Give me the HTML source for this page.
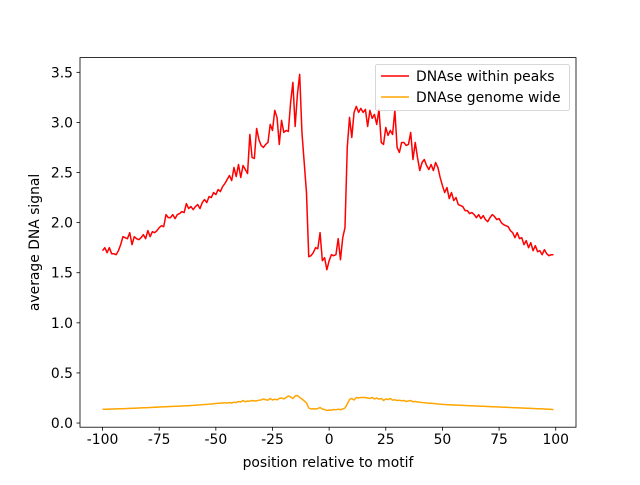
<!DOCTYPE html>
<html><head><meta charset="utf-8">
<style>
html,body{margin:0;padding:0;background:#fff;}
svg text{font-family:"DejaVu Sans","Liberation Sans",sans-serif;font-size:13.9px;fill:#000;}
</style></head>
<body>
<svg id="chart" width="640" height="480" viewBox="0 0 640 480" xmlns="http://www.w3.org/2000/svg">
<rect width="640" height="480" fill="#fff"/>
<g id="plot"></g>
</svg>
<script>
const xStart = -100;
const redValues = [
1.72,1.75,1.70,1.75,1.69,1.69,1.68,1.72,1.78,1.86,
1.85,1.84,1.90,1.78,1.86,1.84,1.83,1.85,1.88,1.84,
1.92,1.86,1.91,1.90,1.92,1.95,1.97,1.96,2.08,2.05,
2.05,2.08,2.04,2.08,2.09,2.11,2.10,2.19,2.14,2.16,
2.13,2.16,2.18,2.14,2.20,2.23,2.20,2.26,2.25,2.30,
2.28,2.33,2.31,2.36,2.39,2.43,2.47,2.42,2.55,2.46,
2.58,2.45,2.57,2.53,2.49,2.88,2.65,2.64,2.94,2.83,
2.77,2.75,2.78,2.80,2.98,2.92,3.12,3.05,2.78,3.02,
2.90,2.92,2.91,3.20,3.40,2.96,3.28,3.48,2.90,2.60,
2.30,1.66,1.67,1.70,1.75,1.74,1.90,1.62,1.65,1.53,
1.62,1.68,1.67,1.68,1.84,1.63,1.85,1.95,2.75,3.05,
2.85,3.10,3.16,3.10,3.14,3.10,3.13,2.96,3.12,3.04,
3.08,2.98,3.13,2.80,2.78,2.95,2.87,2.92,2.88,3.12,
2.75,2.70,2.80,2.80,2.77,2.78,2.90,2.63,2.80,2.65,
2.52,2.60,2.63,2.57,2.53,2.58,2.52,2.60,2.55,2.45,
2.37,2.30,2.35,2.24,2.30,2.22,2.25,2.18,2.17,2.16,
2.12,2.12,2.09,2.10,2.08,2.05,2.08,2.04,2.07,2.03,
2.01,2.05,2.08,2.06,2.03,2.04,2.00,1.98,1.97,1.96,
1.92,1.90,1.85,1.90,1.84,1.85,1.78,1.82,1.75,1.80,
1.72,1.77,1.71,1.72,1.68,1.73,1.69,1.67,1.68,1.68
];
const orangeValues = [
0.137,0.138,0.138,0.139,0.140,0.140,0.141,0.142,0.142,0.143,
0.144,0.145,0.146,0.147,0.148,0.149,0.150,0.151,0.152,0.153,
0.154,0.155,0.156,0.157,0.158,0.160,0.161,0.162,0.163,0.164,
0.165,0.166,0.167,0.168,0.169,0.170,0.171,0.172,0.173,0.175,
0.176,0.178,0.180,0.181,0.183,0.185,0.186,0.188,0.190,0.192,
0.195,0.197,0.198,0.200,0.203,0.198,0.205,0.200,0.208,0.204,
0.215,0.210,0.225,0.212,0.220,0.218,0.225,0.220,0.222,0.228,
0.230,0.240,0.232,0.228,0.245,0.230,0.238,0.232,0.245,0.250,
0.240,0.255,0.270,0.260,0.245,0.270,0.275,0.255,0.240,0.220,
0.200,0.150,0.140,0.142,0.140,0.145,0.155,0.140,0.135,0.125,
0.130,0.128,0.135,0.132,0.138,0.133,0.140,0.150,0.190,0.235,
0.245,0.230,0.255,0.250,0.255,0.255,0.255,0.250,0.245,0.255,
0.240,0.250,0.238,0.245,0.225,0.240,0.235,0.245,0.228,0.232,
0.225,0.228,0.222,0.225,0.215,0.220,0.225,0.212,0.215,0.210,
0.208,0.205,0.203,0.200,0.198,0.197,0.195,0.193,0.190,0.188,
0.186,0.185,0.183,0.182,0.181,0.180,0.179,0.178,0.177,0.176,
0.175,0.174,0.173,0.172,0.171,0.170,0.169,0.168,0.167,0.166,
0.165,0.164,0.163,0.162,0.161,0.160,0.159,0.158,0.157,0.156,
0.155,0.154,0.153,0.152,0.151,0.150,0.149,0.148,0.147,0.146,
0.145,0.144,0.143,0.142,0.141,0.140,0.139,0.138,0.136,0.134
];
const xTicks = [-100,-75,-50,-25,0,25,50,75,100];
const yTicks = [0.0,0.5,1.0,1.5,2.0,2.5,3.0,3.5];
const seriesNames = ["DNAse within peaks","DNAse genome wide"];

const L=80,R=576,T=57.6,B=427.2;
const xmin=-109.95,xmax=108.95,ymin=-0.0416,ymax=3.647;
const sx=v=>L+(v-xmin)/(xmax-xmin)*(R-L);
const sy=v=>B-(v-ymin)/(ymax-ymin)*(B-T);
const NS="http://www.w3.org/2000/svg";
const g=document.getElementById('plot');
function mk(tag,attrs,parent){const e=document.createElementNS(NS,tag);for(const k in attrs)e.setAttribute(k,attrs[k]);(parent||g).appendChild(e);return e;}

function line(vals,color,name){
  const pts=vals.map((v,i)=>sx(xStart+i).toFixed(2)+','+sy(v).toFixed(2)).join(' ');
  const p=mk('polyline',{points:pts,fill:'none',stroke:color,'stroke-width':1.5,'stroke-linejoin':'round'});
  
  
}
line(redValues,'#ff0000','series-dnase-within-peaks');
line(orangeValues,'#ffa500','series-dnase-genome-wide');

const frame=mk('rect',{x:L,y:T,width:R-L,height:B-T,fill:'none',stroke:'#000','stroke-width':0.8});



xTicks.forEach(t=>{
  const x=sx(t);
  mk('line',{x1:x,x2:x,y1:B,y2:B+3.5,stroke:'#000','stroke-width':0.8});
  const tx=mk('text',{x:x,y:B+17,'text-anchor':'middle'});
  tx.textContent=t;
  
  
});
yTicks.forEach(t=>{
  const y=sy(t);
  mk('line',{x1:L-3.5,x2:L,y1:y,y2:y,stroke:'#000','stroke-width':0.8});
  const tx=mk('text',{x:L-7,y:y+5,'text-anchor':'end'});
  tx.textContent=t.toFixed(1);
  
  
});
const xt=mk('text',{x:(L+R)/2,y:467,'text-anchor':'middle'});
xt.textContent='position relative to motif';


const yt=mk('text',{x:0,y:0,'text-anchor':'middle',transform:`translate(39,${(T+B)/2}) rotate(-90)`});
yt.textContent='average DNA signal';



const lg=mk('g',{});


mk('rect',{x:375.5,y:64.5,width:194,height:46,rx:2,fill:'#fff','fill-opacity':0.8,stroke:'#ccc','stroke-width':0.8},lg);
const colors=['#ff0000','#ffa500'];
seriesNames.forEach((n,i)=>{
  const y=76+i*21;
  mk('line',{x1:381,x2:409,y1:y,y2:y,stroke:colors[i],'stroke-width':1.5},lg);
  const t=mk('text',{x:416,y:y+5},lg);
  t.textContent=n;
  
  
});
</script>
</body></html>
